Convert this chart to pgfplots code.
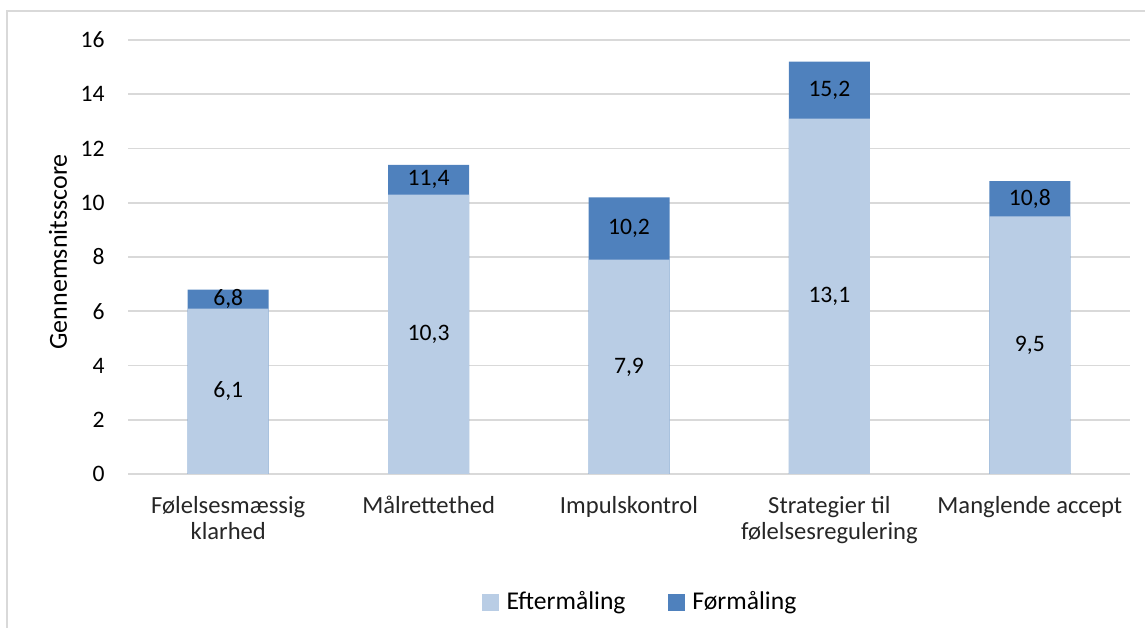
\documentclass[border=0pt]{standalone}
\usepackage{pgfplots}
\pgfplotsset{compat=1.18}
\usepackage{pgfplotstable}
\usepackage{fontspec}
\setmainfont{Carlito}

\definecolor{formaal}{HTML}{4F81BD}
\definecolor{eftermaal}{HTML}{B9CDE5}
\definecolor{gridgray}{HTML}{D9D9D9}

% Gennemsnitsscore pr. delskala: eftermaaling (eft) og foermaaling (for)
\pgfplotstableread{
x eft for
0 6.1 6.8
1 10.3 11.4
2 7.9 10.2
3 13.1 15.2
4 9.5 10.8
}\scores

\begin{document}
\begin{tikzpicture}
\useasboundingbox (0,0) rectangle (572.5bp,314bp);
% ramme om figuren
\draw[gridgray, line width=0.8bp] (3.5bp,-10bp) -- (3.5bp,308.5bp) -- (590bp,308.5bp);
\begin{axis}[
  anchor=south west, at={(64bp,77bp)},
  width=501bp, height=217bp, scale only axis,
  xmin=-0.5, xmax=4.5, ymin=0, ymax=16,
  ytick={0,2,...,16},
  xtick={0,...,4},
  xticklabels={{Følelsesmæssig\\klarhed},Målrettethed,Impulskontrol,{Strategier til\\følelsesregulering},Manglende accept},
  /pgf/number format/assume math mode=true,
  axis line style={draw=none},
  major tick length=0pt,
  ymajorgrids,
  grid style={gridgray, line width=0.8bp},
  yticklabel style={font=\fontsize{11.8bp}{13bp}\selectfont, anchor=east, inner sep=0pt, xshift=-11.5bp},
  xticklabel style={font=\fontsize{12.3bp}{13.2bp}\selectfont, text=black!85, align=center, anchor=north, inner sep=0pt, yshift=-11bp},
  ylabel={Gennemsnitsscore},
  ylabel style={font=\fontsize{13bp}{15bp}\selectfont, at={(axis description cs:-0.0699,0.512)}, anchor=center},
  ybar, bar width=40.5bp, bar shift=0pt,
  nodes near coords align={center},
  legend style={draw=none, at={(axis description cs:0.512,-0.295)}, anchor=center,
    legend columns=2, font=\fontsize{12.8bp}{14bp}\selectfont,
    /tikz/every even column/.append style={column sep=19bp},
    legend cell align=left},
  legend image code/.code={\fill[#1] (0bp,-4.25bp) rectangle (8.5bp,4.25bp); \path (10.5bp,0bp);},
  reverse legend,
]
% foermaaling bagerst, label midt i den synlige del over eftermaalingen
\addplot[fill=formaal, draw=none,
  visualization depends on={\thisrow{eft} \as \eft},
  visualization depends on={\thisrow{for} \as \fr},
  nodes near coords={\pgfmathprintnumber[use comma,fixed,fixed zerofill,precision=1,assume math mode=true]{\pgfplotspointmeta}},
  every node near coord/.append style={font=\fontsize{11.8bp}{13bp}\selectfont, text=black, anchor=center, inner sep=0pt, yshift={-(\fr-\eft)*6.78125bp}},
] table[x=x, y=for] {\scores};
\addlegendentry{Førmåling}
% eftermaaling foran, label midt i soejlen
\addplot[fill=eftermaal, draw=none,
  visualization depends on={\thisrow{eft} \as \eft},
  nodes near coords={\pgfmathprintnumber[use comma,fixed,fixed zerofill,precision=1,assume math mode=true]{\pgfplotspointmeta}},
  every node near coord/.append style={font=\fontsize{11.8bp}{13bp}\selectfont, text=black, anchor=center, inner sep=0pt, yshift={-\eft*6.78125bp}},
] table[x=x, y=eft] {\scores};
\addlegendentry{Eftermåling}
\end{axis}
\end{tikzpicture}
\end{document}
